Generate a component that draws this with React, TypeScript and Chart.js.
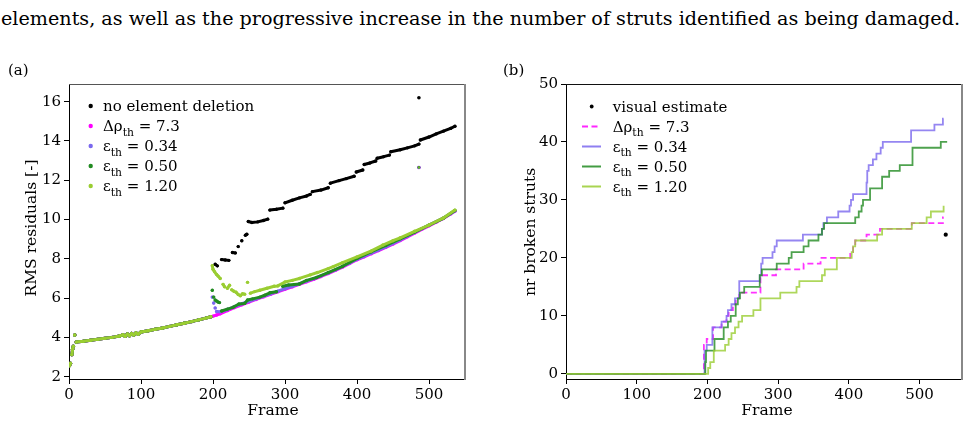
import React, { useEffect, useRef } from 'react';
import { Chart, registerables } from 'chart.js';

Chart.register(...registerables);

const SERIF = "'DejaVu Serif', 'Liberation Serif', serif";
const TOP_LINE =
  'elements, as well as the progressive increase in the number of struts identified as being damaged.';

// ---------- Panel (a): RMS residuals ----------
const xTicksA = [0, 100, 200, 300, 400, 500];
const yTicksA = [2, 4, 6, 8, 10, 12, 14, 16];

// shared part (frames 0-197), identical for every run
const baseFrames = [0, 1, 2, 3, 4, 5, 6, 7, 8, 9, 10, 20, 30, 40, 50, 60, 70, 75, 78, 81, 84, 87, 90, 93, 96, 100, 110, 120, 130, 140, 150, 160, 170, 180, 190, 197];
const baseRms = [2.55, 2.6, 2.68, null, 3.12, 3.4, 3.55, null, 4.12, null, 3.76, 3.8, 3.85, 3.9, 3.95, 4.0, 4.07, 4.13, 4.05, 4.17, 4.08, 4.2, 4.12, 4.23, 4.16, 4.27, 4.34, 4.41, 4.48, 4.56, 4.64, 4.72, 4.8, 4.89, 4.98, 5.05];

const blackFrames = [
  200, 203, 206, 209, 212, 217, 222, 225, 227, 231,
  233, 235, 237, 240, 242, 245, 247, 248, 249, 254,
  262, 270, 276, 278, 279, 288, 297, 299, 300, 310,
  320, 330, 335, 337, 338, 350, 360, 362, 363, 375,
  385, 396, 398, 399, 408, 409, 410, 418, 426, 427,
  428, 437, 445, 446, 447, 460, 470, 480, 486, 487,
  488, 500, 510, 520, 530, 536,
];
const blackRms = [
  null, 7.72, 7.64, null, 7.96, 7.94, 7.92, null, 8.32, 8.3,
  null, 8.62, null, 8.92, null, 9.2, 9.25, null, 9.9, 9.85,
  9.88, 9.95, 10.02, null, 10.48, 10.52, 10.58, null, 10.85, 10.98,
  11.1, 11.2, 11.28, null, 11.42, 11.5, 11.62, null, 11.85, 11.98,
  12.08, 12.2, null, 12.42, 12.52, null, 12.8, 12.88, 12.98, null,
  13.12, 13.2, 13.28, null, 13.45, 13.55, 13.65, 13.75, 13.84, null,
  14.05, 14.2, 14.36, 14.5, 14.64, 14.75,
];

const rhoFrames = [200, 205, 210, 220, 230, 240, 250, 260, 270, 280, 290, 300, 310, 320, 330, 340, 350, 360, 370, 380, 390, 400, 410, 420, 430, 440, 450, 460, 470, 480, 490, 500, 510, 520, 530, 536];
const rhoRms = [5.08, 5.14, 5.2, 5.36, 5.52, 5.66, 5.8, 5.93, 6.06, 6.19, 6.32, 6.45, 6.57, 6.7, 6.83, 6.96, 7.1, 7.25, 7.41, 7.58, 7.76, 7.95, 8.1, 8.26, 8.42, 8.58, 8.75, 8.93, 9.12, 9.31, 9.5, 9.68, 9.86, 10.05, 10.28, 10.42];

const e034Frames = [198, 199, 200, 201, 202, 203, 204, 205, 210, 220, 230, 240, 250, 260, 270, 280, 290, 300, 310, 320, 330, 340, 350, 360, 370, 380, 390, 400, 410, 420, 430, 440, 450, 460, 470, 480, 490, 500, 510, 520, 530, 536];
const e034Rms = [null, 6.05, null, 5.75, null, 5.5, null, 5.32, 5.3, 5.42, 5.57, 5.71, 5.84, 5.96, 6.09, 6.22, 6.35, 6.48, 6.6, 6.73, 6.86, 6.99, 7.13, 7.28, 7.44, 7.61, 7.79, 7.98, 8.13, 8.29, 8.45, 8.61, 8.78, 8.96, 9.15, 9.34, 9.53, 9.71, 9.89, 10.08, 10.3, 10.44];

const e050Frames = [198, 199, 200, 201, 202, 203, 204, 205, 206, 207, 208, 209, 210, 212, 220, 228, 236, 244, 248, 255, 265, 272, 279, 288, 292, 297, 305, 320, 330, 344, 360, 380, 400, 420, 440, 460, 480, 500, 520, 536];
const e050Rms = [null, 6.4, null, 6.05, null, 5.9, null, 5.85, null, 5.8, null, 5.77, null, 5.34, 5.44, 5.53, 5.7, 5.73, 5.9, 5.96, 6.05, 6.15, 6.27, 6.32, null, 6.6, 6.67, 6.72, 6.9, 7.05, 7.3, 7.62, 8.02, 8.36, 8.68, 9.02, 9.36, 9.71, 10.06, 10.46];

const e120Frames = [198, 199, 200, 202, 205, 207, 210, 212, 214, 216, 218, 220, 223, 224, 226, 229, 230, 232, 235, 238, 241, 244, 246, 248, 250, 252, 258, 265, 275, 285, 290, 300, 310, 320, 335, 345, 360, 367, 380, 400, 420, 436, 450, 460, 480, 500, 520, 536];
const e120Rms = [null, 7.65, 7.47, 7.35, 7.2, 7.12, 7.0, null, 6.7, 6.58, null, 6.5, 6.65, null, 6.42, 6.35, null, 6.3, 6.18, 6.12, 6.22, 6.2, null, 6.8, null, 6.25, 6.33, 6.4, 6.5, 6.6, 6.62, 6.82, 6.9, 7.0, 7.18, 7.3, 7.5, 7.6, 7.8, 8.1, 8.4, 8.7, 8.92, 9.07, 9.4, 9.72, 10.08, 10.48];

// isolated outlier frame
const outlierFrame = [486];
const blackOutlier = [16.2];
const deletionOutlier = [12.65];

const legendA = ['no element deletion', 'Δρ_th = 7.3', 'ε_th = 0.34', 'ε_th = 0.50', 'ε_th = 1.20'];

// ---------- Panel (b): number of broken struts ----------
const xTicksB = [0, 100, 200, 300, 400, 500];
const yTicksB = [0, 10, 20, 30, 40, 50];

const visualFrame = [537];
const visualCount = [24];

const rhoStepFrames = [0, 195, 199, 208, 220, 227, 230, 236, 240, 245, 275, 297, 336, 360, 402, 406, 409, 425, 444, 489, 533, 534];
const rhoStepCounts = [0, 5, 6, 8, 9, 10, 11, 12, 13, 14, 17, 18, 19, 20, 21, 22, 23, 24, 25, 26, 27, 27];

const e034StepFrames = [0, 196, 199, 207, 220, 227, 229, 234, 239, 245, 274, 276, 278, 292, 295, 298, 335, 362, 364, 369, 385, 401, 403, 406, 425, 426, 428, 434, 439, 445, 448, 488, 521, 533, 534];
const e034StepCounts = [0, 4, 5, 8, 9, 10, 11, 12, 13, 16, 17, 19, 20, 21, 22, 23, 24, 25, 26, 27, 28, 29, 30, 31, 33, 35, 36, 37, 38, 39, 40, 42, 43, 44, 44];

const e050StepFrames = [0, 197, 198, 210, 223, 229, 233, 240, 243, 246, 252, 274, 277, 298, 315, 319, 336, 343, 357, 362, 365, 409, 414, 418, 420, 430, 447, 457, 472, 490, 530, 539];
const e050StepCounts = [0, 2, 4, 6, 8, 9, 10, 12, 13, 14, 15, 17, 18, 19, 20, 21, 22, 23, 24, 25, 26, 27, 28, 29, 30, 32, 34, 35, 36, 39, 40, 40];

const e120StepFrames = [0, 201, 204, 209, 225, 230, 234, 239, 244, 249, 265, 275, 303, 326, 330, 362, 366, 383, 404, 406, 409, 440, 447, 489, 510, 516, 534];
const e120StepCounts = [0, 1, 2, 4, 5, 6, 7, 8, 9, 10, 11, 13, 14, 15, 16, 17, 18, 20, 21, 22, 23, 24, 25, 26, 27, 28, 29];

const legendB = ['visual estimate', 'Δρ_th = 7.3', 'ε_th = 0.34', 'ε_th = 0.50', 'ε_th = 1.20'];

// ---------- styling ----------
const BLACK = '#000000';
const MAGENTA = '#ff00ff';
const SLATE = '#7b68ee';
const FOREST = '#228b22';
const YGREEN = '#9acd32';

function rgba(hex: string, a: number) {
  const n = parseInt(hex.slice(1), 16);
  return `rgba(${(n >> 16) & 255},${(n >> 8) & 255},${n & 255},${a})`;
}

const pts = (xs: number[], ys: (number | null)[]) => xs.map((x, i) => ({ x, y: ys[i] }));

function drawRich(ctx: CanvasRenderingContext2D, s: string, x: number, baseline: number, size: number) {
  const i = s.indexOf('_');
  let parts: { t: string; sub?: boolean }[];
  if (i < 0) parts = [{ t: s }];
  else {
    const j = s.indexOf(' ', i);
    parts = [{ t: s.slice(0, i) }, { t: s.slice(i + 1, j), sub: true }, { t: s.slice(j) }];
  }
  let cx = x;
  for (const p of parts) {
    const fs = p.sub ? size * 0.72 : size;
    ctx.font = `${fs}px ${SERIF}`;
    ctx.fillText(p.t, cx, p.sub ? baseline + size * 0.33 : baseline);
    cx += ctx.measureText(p.t).width;
  }
}

type LegendItem = { label: string; color: string; kind: 'dot' | 'line' | 'dash' };
type OverlayOpts = {
  topColor: string;
  rightColor: string;
  panel: string;
  panelX: number;
  panelY: number;
  xTitleX: number;
  xTitleY: number;
  yTitle: string;
  yTitleX: number;
  yTitleY: number;
  legend: LegendItem[];
  legendY: number;
  dotX: number;
  dotR: number;
  lineX0: number;
  lineX1: number;
  textX: number;
};

function overlay(o: OverlayOpts) {
  return {
    id: 'overlay',
    afterDraw(chart: any) {
      const ctx: CanvasRenderingContext2D = chart.ctx;
      const a = chart.chartArea;
      ctx.save();
      ctx.lineWidth = 1.2;
      ctx.strokeStyle = o.topColor;
      ctx.beginPath();
      ctx.moveTo(a.left, a.top + 0.5);
      ctx.lineTo(a.right, a.top + 0.5);
      ctx.stroke();
      ctx.lineWidth = 2;
      ctx.strokeStyle = o.rightColor;
      ctx.beginPath();
      ctx.moveTo(a.right, a.top);
      ctx.lineTo(a.right, a.bottom + 1);
      ctx.stroke();

      ctx.fillStyle = '#000';
      ctx.textAlign = 'left';
      ctx.textBaseline = 'alphabetic';
      ctx.font = `15px ${SERIF}`;
      ctx.fillText(o.panel, o.panelX, o.panelY);

      ctx.font = `15.5px ${SERIF}`;
      ctx.textAlign = 'center';
      ctx.textBaseline = 'middle';
      ctx.fillText('Frame', o.xTitleX, o.xTitleY);
      ctx.save();
      ctx.translate(o.yTitleX, o.yTitleY);
      ctx.rotate(-Math.PI / 2);
      ctx.fillText(o.yTitle, 0, 0);
      ctx.restore();

      ctx.textAlign = 'left';
      ctx.textBaseline = 'alphabetic';
      o.legend.forEach((it, i) => {
        const cy = o.legendY + i * 20;
        if (it.kind === 'dot') {
          ctx.fillStyle = it.color;
          ctx.beginPath();
          ctx.arc(o.dotX, cy, o.dotR, 0, Math.PI * 2);
          ctx.fill();
        } else {
          ctx.strokeStyle = it.color;
          ctx.lineWidth = 2;
          ctx.setLineDash(it.kind === 'dash' ? [6, 3.5] : []);
          ctx.beginPath();
          ctx.moveTo(o.lineX0, cy);
          ctx.lineTo(o.lineX1, cy);
          ctx.stroke();
          ctx.setLineDash([]);
        }
        ctx.fillStyle = '#000';
        drawRich(ctx, it.label, o.textX, cy + 5, 15);
      });
      ctx.restore();
    },
  };
}

function axis(min: number, max: number, tickVals: number[], isX: boolean, fit: number) {
  return {
    type: 'linear' as const,
    min,
    max,
    afterBuildTicks: (s: any) => {
      s.ticks = tickVals.map((v) => ({ value: v }));
    },
    afterFit: (s: any) => {
      if (isX) s.height = fit;
      else s.width = fit;
    },
    ticks: {
      font: { family: SERIF, size: 15 },
      color: '#000',
      padding: isX ? 2 : 3,
      maxRotation: 0,
      autoSkip: false,
      callback: (v: any) => String(v),
    },
    grid: { drawOnChartArea: false, drawTicks: true, tickLength: 5, color: '#000', lineWidth: 1 },
    border: { display: true, color: '#000', width: 1 },
    title: { display: false },
  };
}

function scatterSet(frames: number[], vals: (number | null)[], color: string, order: number) {
  return {
    data: pts(frames, vals),
    borderColor: color,
    backgroundColor: color,
    showLine: true,
    borderWidth: 3,
    borderCapStyle: 'round' as const,
    borderJoinStyle: 'round' as const,
    pointRadius: 1.7,
    pointBorderWidth: 0,
    pointHoverRadius: 0,
    spanGaps: false,
    order,
  };
}

function outlierSet(vals: number[], color: string, order: number, r: number) {
  return {
    data: pts(outlierFrame, vals),
    borderColor: color,
    backgroundColor: color,
    showLine: false,
    pointRadius: r,
    pointBorderWidth: 0,
    order,
  };
}

function leftConfig(): any {
  return {
    type: 'line',
    data: {
      datasets: [
        scatterSet([...baseFrames, ...blackFrames], [...baseRms, ...blackRms], BLACK, 4),
        outlierSet(blackOutlier, BLACK, 4, 1.8),
        scatterSet([...baseFrames, ...rhoFrames], [...baseRms, ...rhoRms], MAGENTA, 3),
        outlierSet(deletionOutlier, MAGENTA, 3, 1.8),
        scatterSet([...baseFrames, ...e034Frames], [...baseRms, ...e034Rms], SLATE, 2),
        outlierSet(deletionOutlier, SLATE, 2, 1.8),
        scatterSet([...baseFrames, ...e050Frames], [...baseRms, ...e050Rms], FOREST, 1),
        outlierSet(deletionOutlier, FOREST, 1, 1.4),
        scatterSet([...baseFrames, ...e120Frames], [...baseRms, ...e120Rms], YGREEN, 0),
        outlierSet(deletionOutlier, rgba(YGREEN, 0.6), 0, 1.2),
      ],
    },
    options: {
      responsive: false,
      animation: false,
      devicePixelRatio: 1,
      layout: { padding: { left: 0, top: 34, right: 25, bottom: 0 } },
      plugins: { legend: { display: false }, tooltip: { enabled: false } },
      events: [],
      scales: {
        x: axis(0, 550, xTicksA, true, 46),
        y: axis(1.88, 16.9, yTicksA, false, 69),
      },
    },
    plugins: [
      overlay({
        topColor: '#555',
        rightColor: '#888',
        panel: '(a)',
        panelX: 8,
        panelY: 25,
        xTitleX: 273,
        xTitleY: 361,
        yTitle: 'RMS residuals [-]',
        yTitleX: 32,
        yTitleY: 178,
        legend: legendA.map((label, i) => ({ label, color: [BLACK, MAGENTA, SLATE, FOREST, YGREEN][i], kind: 'dot' as const })),
        legendY: 56,
        dotX: 90.7,
        dotR: 2.2,
        lineX0: 0,
        lineX1: 0,
        textX: 103,
      }),
    ],
  };
}

function stepSet(frames: number[], counts: number[], color: string, order: number, dash: number[] = []) {
  return {
    data: pts(frames, counts),
    borderColor: rgba(color, 0.8),
    backgroundColor: rgba(color, 0.8),
    borderWidth: 1.8,
    borderDash: dash,
    stepped: 'before' as const,
    pointRadius: 0,
    pointHoverRadius: 0,
    fill: false,
    order,
  };
}

function rightConfig(): any {
  return {
    type: 'line',
    data: {
      datasets: [
        {
          data: pts(visualFrame, visualCount),
          borderColor: BLACK,
          backgroundColor: BLACK,
          showLine: false,
          pointRadius: 2.1,
          pointBorderWidth: 0,
          order: 4,
        },
        stepSet(rhoStepFrames, rhoStepCounts, MAGENTA, 3, [6, 3.5]),
        stepSet(e034StepFrames, e034StepCounts, SLATE, 2),
        stepSet(e050StepFrames, e050StepCounts, FOREST, 1),
        stepSet(e120StepFrames, e120StepCounts, YGREEN, 0),
      ],
    },
    options: {
      responsive: false,
      animation: false,
      devicePixelRatio: 1,
      layout: { padding: { left: 0, top: 34, right: 11, bottom: 0 } },
      plugins: { legend: { display: false }, tooltip: { enabled: false } },
      events: [],
      scales: {
        x: axis(0, 560, xTicksB, true, 46),
        y: axis(-0.9, 50, yTicksB, false, 76),
      },
    },
    plugins: [
      overlay({
        topColor: '#111',
        rightColor: '#888',
        panel: '(b)',
        panelX: 13,
        panelY: 25,
        xTitleX: 277,
        xTitleY: 361,
        yTitle: 'nr broken struts',
        yTitleX: 41,
        yTitleY: 182,
        legend: legendB.map((label, i) => ({
          label,
          color: i === 0 ? BLACK : rgba([BLACK, MAGENTA, SLATE, FOREST, YGREEN][i], 0.85),
          kind: i === 0 ? ('dot' as const) : i === 1 ? ('dash' as const) : ('line' as const),
        })),
        legendY: 56.5,
        dotX: 101.7,
        dotR: 1.9,
        lineX0: 92,
        lineX1: 111,
        textX: 122.7,
      }),
    ],
  };
}

export default function App() {
  const leftRef = useRef<HTMLCanvasElement>(null);
  const rightRef = useRef<HTMLCanvasElement>(null);
  const textRef = useRef<HTMLDivElement>(null);

  useEffect(() => {
    const el = textRef.current;
    if (el) {
      const c = document.createElement('canvas').getContext('2d');
      if (c) {
        c.font = `100px ${SERIF}`;
        const w = c.measureText(TOP_LINE).width;
        const size = (100 * 960) / w;
        el.style.fontSize = `${size}px`;
        el.style.top = `${25 - 0.846 * size}px`;
      }
    }
    const a = new Chart(leftRef.current as HTMLCanvasElement, leftConfig());
    const b = new Chart(rightRef.current as HTMLCanvasElement, rightConfig());
    return () => {
      a.destroy();
      b.destroy();
    };
  }, []);

  return (
    <div style={{ position: 'fixed', left: 0, top: 0, width: 973, height: 425, background: '#fff', overflow: 'hidden' }}>
      <div
        ref={textRef}
        style={{ position: 'absolute', left: 1, top: 10, whiteSpace: 'nowrap', fontFamily: SERIF, fontSize: 17, lineHeight: 1, color: '#000' }}
      >
        {TOP_LINE}
      </div>
      <canvas ref={leftRef} width={490} height={375} style={{ position: 'absolute', left: 0, top: 50, width: 490, height: 375 }} />
      <canvas ref={rightRef} width={483} height={375} style={{ position: 'absolute', left: 490, top: 50, width: 483, height: 375 }} />
    </div>
  );
}
